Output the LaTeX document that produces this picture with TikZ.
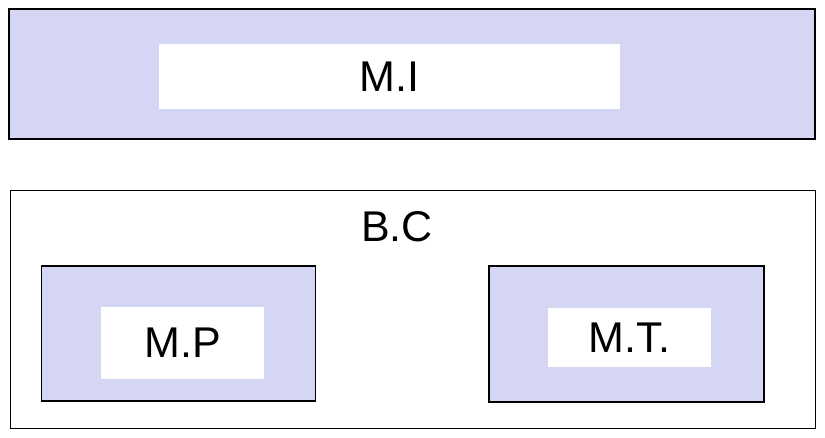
\documentclass[tikz,border=0pt]{standalone}
\usepackage{fontspec}
\setmainfont{Liberation Sans}
\definecolor{lav}{RGB}{213,214,243}
\tikzset{
  shaded/.style={draw, line width=1.2pt, fill=lav, inner sep=0pt},
  frame/.style={draw, line width=1pt, fill=white, inner sep=0pt},
  whitebox/.style={fill=white, inner sep=0pt, font=\fontsize{43}{43}\selectfont},
  title/.style={inner sep=0pt, font=\fontsize{43}{43}\selectfont}
}
\begin{document}
\begin{tikzpicture}[x=1pt,y=-1pt]
  \useasboundingbox (0,0) rectangle (825,438);
  % top block
  \node[shaded, minimum width=806pt, minimum height=130pt] (mi) at (412,74) {};
  \node[whitebox, minimum width=461pt, minimum height=65pt] (mitext) at (389.5,77) {M.I};
  % bottom block
  \node[frame, minimum width=804.5pt, minimum height=237pt] (bc) at (412.75,309.5) {};
  \node[title] (bctext) at (397,227) {B.C};
  \node[shaded, minimum width=274pt, minimum height=135pt] (mp) at (178.5,333.5) {};
  \node[whitebox, minimum width=163pt, minimum height=72pt] (mptext) at (182.5,343) {M.P};
  \node[shaded, minimum width=275pt, minimum height=136pt] (mt) at (626.5,334) {};
  \node[whitebox, minimum width=163pt, minimum height=59pt] (mttext) at (629.5,337.5) {M.T.};
\end{tikzpicture}
\end{document}
